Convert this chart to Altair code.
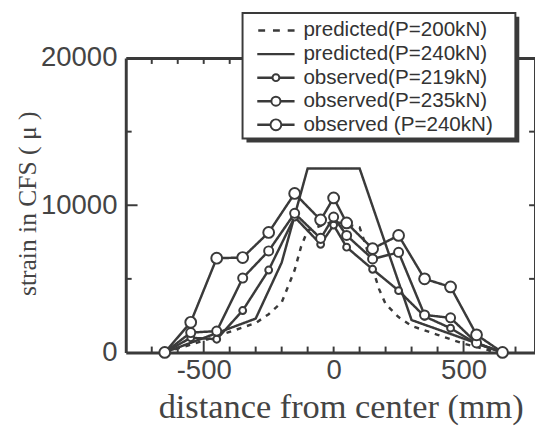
import altair as alt
import pandas as pd

# ---------------- data ----------------
series_names = [
    "predicted(P=200kN)",
    "predicted(P=240kN)",
    "observed(P=219kN)",
    "observed(P=235kN)",
    "observed (P=240kN)",
]

pred200_x = [-650, -500, -400, -300, -250, -200, -175, -150, -125, -100, 0,
             100, 125, 150, 175, 200, 250, 300, 400, 500, 600, 650]
pred200_y = [0, 800, 1400, 2000, 2600, 3400, 4500, 5600, 7200, 8300, 8900,
             8500, 7200, 5700, 4300, 3300, 2400, 1800, 1200, 600, 150, 0]

pred240_x = [-650, -300, -200, -100, 100, 300, 650]
pred240_y = [0, 2300, 6100, 12500, 12500, 2200, 0]

obs_x = [-650, -550, -450, -350, -250, -150, -50, 0, 50, 150, 250, 350, 450, 550, 650]
obs219 = [0, 1000, 900, 2850, 5600, 9200, 7350, 8650, 7150, 5650, 4200, 2450, 1650, 600, 0]
obs235 = [0, 1350, 1450, 5050, 6900, 9450, 7750, 9200, 7950, 6350, 6800, 2550, 2350, 650, 0]
obs240 = [0, 2050, 6400, 6450, 8150, 10800, 9000, 10500, 8800, 7050, 7950, 5000, 4450, 1200, 0]

x_label_values = [-500, 0, 500]
y_label_values = [0, 10000, 20000]
x_minor_ticks = [-700, -600, -400, -300, -200, -100, 0, 100, 200, 300, 400, 600, 700]
x_major_ticks = [-500, 500]
y_minor_ticks = [5000, 15000]
y_major_ticks = [10000]

point_sizes = [49, 121, 256]        # circle sizes of the three observed series
dash_styles = [[5, 6], [1, 0], [1, 0], [1, 0], [1, 0]]

# ---------------- tables ----------------
rows = []
for xs, ys, name in [(pred200_x, pred200_y, series_names[0]),
                     (pred240_x, pred240_y, series_names[1]),
                     (obs_x, obs219, series_names[2]),
                     (obs_x, obs235, series_names[3]),
                     (obs_x, obs240, series_names[4])]:
    for xv, yv in zip(xs, ys):
        rows.append({"x": xv, "y": yv, "series": name})
df = pd.DataFrame(rows)
df_obs = df[df["series"].isin(series_names[2:])]
df_leg = pd.DataFrame({"series": series_names})
df_one = pd.DataFrame({"k": [0]})
df_xmin = pd.DataFrame({"t": x_minor_ticks})
df_xmaj = pd.DataFrame({"t": x_major_ticks})
df_xall = pd.DataFrame({"t": x_minor_ticks + x_major_ticks})
df_ymin = pd.DataFrame({"t": y_minor_ticks})
df_ymaj = pd.DataFrame({"t": y_major_ticks})
df_yall = pd.DataFrame({"t": y_minor_ticks + y_major_ticks})

ink = "#3a3a3a"
txt = "#444444"
W, H = 417, 300

xscale = alt.Scale(domain=[-800, 775], nice=False, zero=False)
yscale = alt.Scale(domain=[0, 20000], nice=False, zero=False)
dash_scale = alt.Scale(domain=series_names, range=dash_styles)
size_scale = alt.Scale(domain=series_names[2:], range=point_sizes)

# legend layout (pixels, relative to the plot's top-left corner)
LX0, LX1, LY0, LY1 = 119, 397, -46, 82
leg_rows = alt.Scale(type="point", domain=series_names, range=[-28, 68], padding=0)

lines = alt.Chart(df).mark_line(strokeWidth=2.5, color=ink).encode(
    x=alt.X("x:Q", scale=xscale, axis=alt.Axis(
        orient="bottom", values=x_label_values, ticks=False,
        labelExpr="datum.value + ''",
        labelFontSize=28, labelFont="Liberation Sans", labelColor=txt,
        labelPadding=5, labelFlush=False, labelOverlap=False,
        domainColor=ink, domainWidth=3,
        title="distance from center (mm)", titleFont="Liberation Serif",
        titleFontSize=35, titleFontWeight="normal", titleColor=txt,
        titleX=219, titleY=66, titleBaseline="alphabetic", titleAlign="center")),
    y=alt.Y("y:Q", scale=yscale, axis=alt.Axis(
        orient="left", values=y_label_values, ticks=False,
        labelExpr="datum.value + ''",
        labelFontSize=28, labelFont="Liberation Sans", labelColor=txt,
        labelPadding=9, labelFlush=False, labelOverlap=False,
        domainColor=ink, domainWidth=3,
        title="strain in CFS ( μ )", titleFont="Liberation Serif",
        titleFontSize=26, titleFontWeight="normal", titleColor=txt,
        titleX=-100, titleY=148, titleAngle=-90, titleBaseline="middle",
        titleAlign="center")),
    strokeDash=alt.StrokeDash("series:N", scale=dash_scale, legend=None),
    detail="series:N",
)

points = alt.Chart(df_obs).mark_point(
    filled=True, fill="white", stroke=ink, strokeWidth=2, opacity=1
).encode(
    x=alt.X("x:Q", scale=xscale, axis=None),
    y=alt.Y("y:Q", scale=yscale, axis=None),
    size=alt.Size("series:N", scale=size_scale, legend=None),
)

# invisible layer that carries the top and right frame lines
frame = alt.Chart(df_obs).mark_point(opacity=0).encode(
    x=alt.X("x:Q", scale=xscale, axis=alt.Axis(
        orient="bottom", offset=-H, labels=False, ticks=False,
        domain=True, domainColor=ink, domainWidth=3, title=None)),
    y=alt.Y("y:Q", scale=yscale, axis=alt.Axis(
        orient="left", offset=-W, labels=False, ticks=False,
        domain=True, domainColor=ink, domainWidth=3, title=None)),
)

# ---------------- inward tick marks ----------------
def xticks(data, y0, y1):
    return alt.Chart(data).mark_rule(color=ink, strokeWidth=2).encode(
        x=alt.X("t:Q", scale=xscale, axis=None),
        y=alt.value(y0), y2=alt.value(y1))


def yticks(data, x0, x1):
    return alt.Chart(data).mark_rule(color=ink, strokeWidth=2).encode(
        y=alt.Y("t:Q", scale=yscale, axis=None),
        x=alt.value(x0), x2=alt.value(x1))


tick_layers = [
    xticks(df_xmin, H, H - 6),
    xticks(df_xmaj, H, H - 12),
    xticks(df_xall, 0, 6),
    yticks(df_ymin, 0, 6),
    yticks(df_ymaj, 0, 12),
    yticks(df_yall, W, W - 6),
]

# ---------------- legend (box with shadow, symbols, labels) ----------------
leg_shadow = alt.Chart(df_one).mark_rect(color=ink).encode(
    x=alt.value(LX0 + 4), x2=alt.value(LX1 + 4),
    y=alt.value(LY0 + 4), y2=alt.value(LY1 + 4))
leg_box = alt.Chart(df_one).mark_rect(fill="white", stroke=ink, strokeWidth=2).encode(
    x=alt.value(LX0), x2=alt.value(LX1), y=alt.value(LY0), y2=alt.value(LY1))
leg_dashed = alt.Chart(df_leg).transform_filter(
    alt.datum.series == series_names[0]
).mark_rule(color=ink, strokeWidth=2.5, strokeDash=[7, 8]).encode(
    x=alt.value(LX0 + 16), x2=alt.value(LX0 + 53),
    y=alt.Y("series:N", scale=leg_rows, axis=None))
leg_solid = alt.Chart(df_leg).transform_filter(
    alt.datum.series != series_names[0]
).mark_rule(color=ink, strokeWidth=2.5).encode(
    x=alt.value(LX0 + 15), x2=alt.value(LX0 + 53),
    y=alt.Y("series:N", scale=leg_rows, axis=None))
leg_points = alt.Chart(df_leg).transform_filter(
    alt.FieldOneOfPredicate(field="series", oneOf=series_names[2:])
).mark_point(
    filled=True, fill="white", stroke=ink, strokeWidth=2, opacity=1).encode(
    x=alt.value(LX0 + 34),
    y=alt.Y("series:N", scale=leg_rows, axis=None),
    size=alt.Size("series:N", scale=size_scale, legend=None))
leg_text = alt.Chart(df_leg).mark_text(
    align="left", baseline="middle", font="Liberation Sans", fontSize=21,
    color="#333333").encode(
    x=alt.value(LX0 + 62),
    y=alt.Y("series:N", scale=leg_rows, axis=None),
    text="series:N")

chart = alt.layer(
    lines, points, frame, *tick_layers, leg_shadow, leg_box, leg_dashed,
    leg_solid, leg_points, leg_text
).resolve_axis(
    x="independent", y="independent"
).resolve_scale(
    y="independent"
).properties(
    width=W, height=H,
    autosize=alt.AutoSizeParams(type="none"),
    padding={"left": 120, "top": 47, "right": 0, "bottom": 74},
).configure_view(stroke=None).configure_axis(grid=False)

chart.save("out.html", embed_options={"renderer": "svg", "actions": False})
